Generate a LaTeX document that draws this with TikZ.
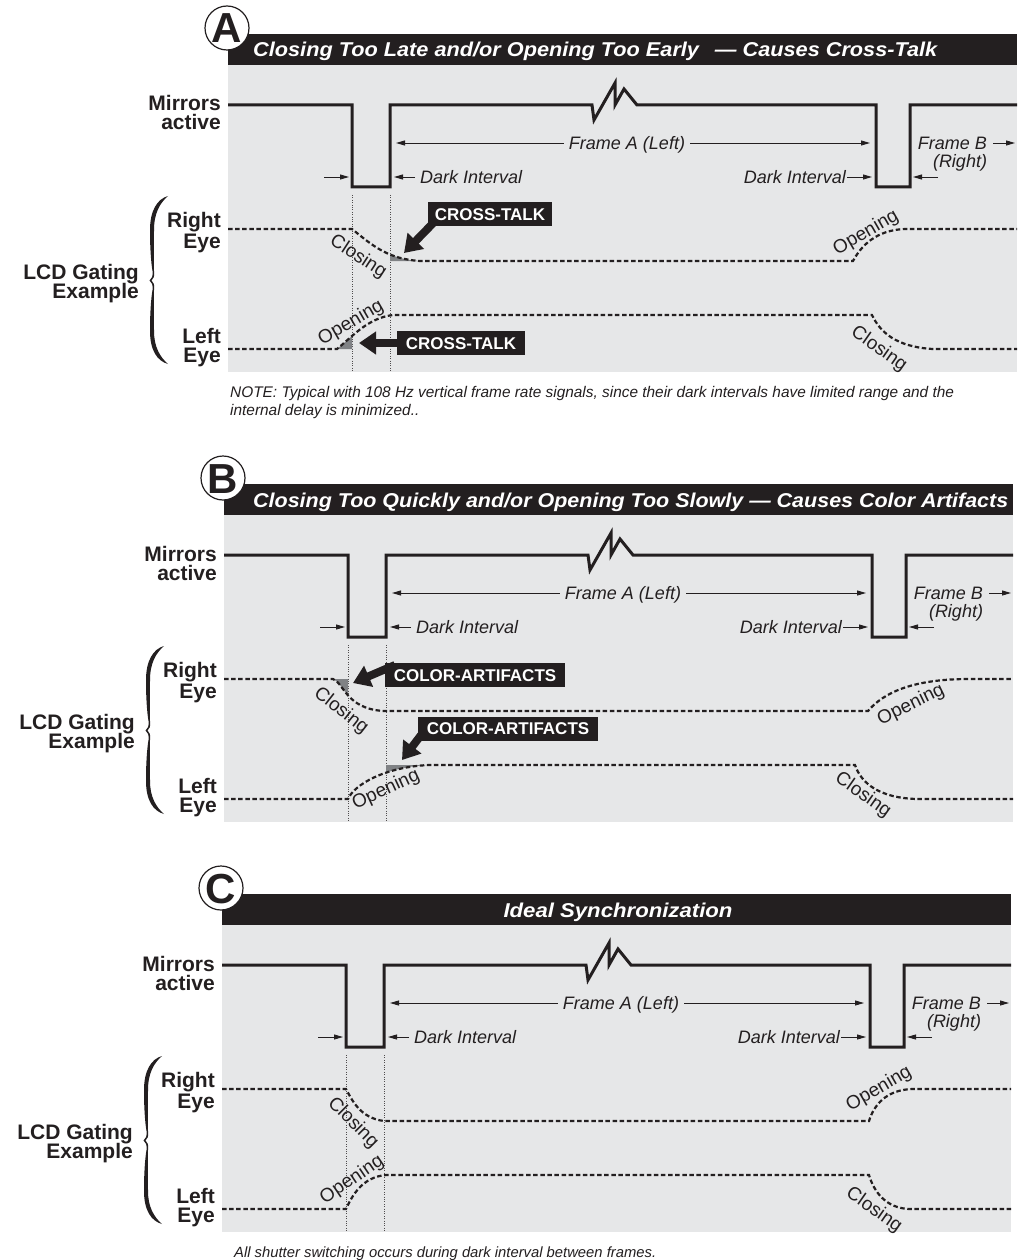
\documentclass[tikz,border=0pt]{standalone}
\usepackage{fontspec}
\setmainfont{Liberation Sans}
\usetikzlibrary{arrows.meta}
\definecolor{ink}{HTML}{231F20}
\definecolor{panelgray}{HTML}{E6E7E8}
\definecolor{xtalk}{HTML}{808285}

\tikzset{
  mirrorline/.style={line width=3pt, draw=ink, line join=miter},
  eyetrace/.style={line width=2.2pt, draw=ink, dash pattern=on 4.5pt off 2.6pt},
  guide/.style={line width=0.8pt, draw=ink!80, dash pattern=on 0.8pt off 1.6pt},
  dimarrow/.style={line width=0.9pt, draw=ink, -{Triangle[length=9pt,width=5pt]}},
  lab/.style={font=\fontsize{18}{20}\selectfont\itshape, text=ink, inner sep=0pt, text height=12.9pt, text depth=0pt},
  sidelab/.style={font=\fontsize{21}{20}\selectfont\bfseries, text=ink, inner sep=0pt, anchor=base east},
  curvelab/.style={font=\fontsize{19}{20}\selectfont, text=ink, inner sep=0pt},
  badge/.style={circle, draw=ink, fill=white, line width=1.2pt, minimum size=44pt, inner sep=0pt,
    text height=30pt, text depth=0pt, font=\fontsize{42}{42}\selectfont\bfseries, text=ink},
  ttl/.style={text=white, font=\fontsize{20}{20}\selectfont\bfseries\itshape, inner sep=0pt},
  notetext/.style={font=\fontsize{15.4}{18}\selectfont\itshape, text=ink, inner sep=0pt, anchor=base west},
  calloutbox/.style={fill=ink, text=white, font=\fontsize{17}{17}\selectfont\bfseries, inner sep=0pt,
    minimum height=24pt, text height=12.2pt, text depth=0pt},
  blockarrow/.style={draw=ink, line width=8pt, -{Triangle[length=17pt,width=22pt]}},
}

\newcommand\lcdcommon[1]{%
  \fill[ink] (228,34) rectangle (1017,65);
  \fill[panelgray] (228,65) rectangle (1017,372);
  \node[badge] (badge) at (227,28) {#1};
  \draw[mirrorline] (228,105) -- (352,105) -- (352,187) -- (390,187) -- (390,105) -- (592,105)
     -- (594,120) -- (615,83) -- (615,105) -- (624,89) -- (637,105) -- (876,105) -- (876,187)
     -- (910,187) -- (910,105) -- (1017,105);
  % frame arrows
  \node[lab] (fa) at (627,143) {Frame A (Left)};
  \coordinate (faL) at (396,143);
  \coordinate (faR) at (870,143);
  \draw[dimarrow] ([xshift=-5pt]fa.west) -- (faL);
  \draw[dimarrow] ([xshift=5pt]fa.east) -- (faR);
  \node[lab, anchor=east] (fb) at (987,143) {Frame B};
  \coordinate (fbR) at (1015,143);
  \draw[dimarrow] ([xshift=6pt]fb.east) -- (fbR);
  \node[lab] (fbr) at (960,161) {(Right)};
  % dark interval arrows
  \coordinate (d1a) at (324,177);
  \coordinate (d1b) at (349,177);
  \draw[dimarrow] (d1a) -- (d1b);
  \node[lab, anchor=west] (dl) at (420,177) {Dark Interval};
  \coordinate (d2b) at (394,177);
  \draw[dimarrow] ([xshift=-5pt]dl.west) -- (d2b);
  \node[lab, anchor=east] (dr) at (846,177) {Dark Interval};
  \coordinate (d3b) at (872,177);
  \draw[dimarrow] ([xshift=1pt]dr.east) -- (d3b);
  \coordinate (d4a) at (938,177);
  \coordinate (d4b) at (913,177);
  \draw[dimarrow] (d4a) -- (d4b);
  % guides
  \draw[guide] (352,195) -- (352,372);
  \draw[guide] (390,195) -- (390,372);
  % side labels
  \node[sidelab] (s1) at (221,111) {Mirrors};
  \node[sidelab] (s2) at (221,130) {active};
  \node[sidelab] (s3) at (221,227) {Right};
  \node[sidelab] (s4) at (221,248) {Eye};
  \node[sidelab] (s5) at (221,343) {Left};
  \node[sidelab] (s6) at (221,362) {Eye};
  \node[sidelab] (s7) at (139,279) {LCD Gating};
  \node[sidelab] (s8) at (139,298) {Example};
  % brace (thick hooked ends, thin waist, pointed middle)
  \fill[ink] (168,196)
     .. controls (157,199) and (150,211) .. (150,230)
     .. controls (150,248) and (151,262) .. (152.5,271)
     .. controls (153,276) and (152,279) .. (149.5,280.5)
     .. controls (152,282) and (153,285) .. (152.5,290)
     .. controls (151,299) and (150,313) .. (150,331)
     .. controls (150,350) and (157,361) .. (168,364)
     .. controls (160,357) and (154,347) .. (154,331)
     .. controls (154,313) and (153.5,299) .. (154,290)
     .. controls (154.5,285) and (154,282) .. (151.5,280.5)
     .. controls (154,279) and (154.5,276) .. (154,271)
     .. controls (153.5,262) and (154,248) .. (154,230)
     .. controls (154,213) and (160,203) .. (168,196) -- cycle;
}

\begin{document}
\begin{tikzpicture}[x=1pt, y=-1pt]
\useasboundingbox (0,0) rectangle (1021,1260);
\fill[white] (0,0) rectangle (1021,1260);

% ================= Panel A =================
\begin{scope}[name prefix=A-]
  \lcdcommon{A}
  \node[ttl, anchor=base west] (title) at (253,57)
    {\resizebox{684pt}{\height}{Closing Too Late and/or Opening Too Early\hspace{0.45em} — Causes Cross-Talk}};
  \begin{scope}
    \clip (390,200) rectangle (440,265);
    \fill[xtalk] (352,229) .. controls (373,246) and (388,259) .. (420,261) -- (352,261) -- cycle;
  \end{scope}
  \begin{scope}
    \clip (330,320) rectangle (352,352);
    \fill[xtalk] (337,349) .. controls (353,336) and (368,318) .. (393,315) -- (393,349) -- cycle;
  \end{scope}
  \draw[eyetrace] (228,229) -- (352,229) .. controls (373,246) and (388,259) .. (420,261) -- (853,261)
     .. controls (861,246) and (876,230) .. (905,229) -- (1017,229);
  \draw[eyetrace] (228,349) -- (337,349) .. controls (353,336) and (368,318) .. (393,315) -- (872,315)
     .. controls (880,332) and (896,347) .. (933,349) -- (1017,349);
  \node[curvelab, rotate=-33] (cl1) at (358,257) {Closing};
  \node[curvelab, rotate=30] (op1) at (351,323) {Opening};
  \node[curvelab, rotate=30] (op2) at (866,233) {Opening};
  \node[curvelab, rotate=-35] (cl2) at (879,349) {Closing};
  % callouts
  \coordinate (t1) at (404,253);
  \coordinate (s1t) at (442,214);
  \draw[blockarrow] (s1t) -- (t1);
  \node[calloutbox, minimum width=124pt] (ct1) at (490,214) {CROSS-TALK};
  \coordinate (t2) at (359,343);
  \coordinate (s2t) at (410,343);
  \draw[blockarrow] (s2t) -- (t2);
  \node[calloutbox, minimum width=128pt] (ct2) at (461,343) {CROSS-TALK};
  \node[notetext] (n1) at (230,397) {NOTE: Typical with 108 Hz vertical frame rate signals, since their dark intervals have limited range and the};
  \node[notetext] (n2) at (230,415) {internal delay is minimized..};
\end{scope}

% ================= Panel B =================
\begin{scope}[shift={(-4,450)}, name prefix=B-]
  \lcdcommon{B}
  \node[ttl, anchor=base west] (title) at (257,57)
    {\resizebox{755pt}{\height}{Closing Too Quickly and/or Opening Too Slowly — Causes Color Artifacts}};
  \begin{scope}
    \clip (330,225) rectangle (352,265);
    \fill[xtalk] (337,229) .. controls (348,233) and (350,259) .. (388,261) -- (388,229) -- cycle;
  \end{scope}
  \begin{scope}
    \clip (390,300) rectangle (440,352);
    \fill[xtalk] (352,349) .. controls (358,335) and (388,317) .. (433,315) -- (352,315) -- cycle;
  \end{scope}
  \draw[eyetrace] (228,229) -- (337,229) .. controls (348,233) and (350,259) .. (388,261) -- (872,261)
     .. controls (888,242) and (918,229) .. (973,229) -- (1017,229);
  \draw[eyetrace] (228,349) -- (352,349) .. controls (358,335) and (388,317) .. (433,315) -- (859,315)
     .. controls (865,333) and (883,348) .. (921,349) -- (1017,349);
  \node[curvelab, rotate=-38] (cl1) at (345,261) {Closing};
  \node[curvelab, rotate=25] (op1) at (390,340) {Opening};
  \node[curvelab, rotate=26] (op2) at (915,255) {Opening};
  \node[curvelab, rotate=-35] (cl2) at (867,345) {Closing};
  \coordinate (t1) at (357,233);
  \coordinate (s1t) at (399,215);
  \draw[blockarrow] (s1t) -- (t1);
  \node[calloutbox, minimum width=180pt] (ca1) at (479,225) {COLOR-ARTIFACTS};
  \coordinate (t2) at (406,310);
  \coordinate (s2t) at (432,276);
  \draw[blockarrow] (s2t) -- (t2);
  \node[calloutbox, minimum width=180pt] (ca2) at (512,278.5) {COLOR-ARTIFACTS};
\end{scope}

% ================= Panel C =================
\begin{scope}[shift={(-6,860)}, name prefix=C-]
  \lcdcommon{C}
  \node[ttl, anchor=base] (title) at (624,57)
    {\resizebox{229pt}{\height}{Ideal Synchronization}};
  \draw[eyetrace] (228,229) -- (352,229) .. controls (358,240) and (366,258) .. (390,261) -- (875,261)
     .. controls (880,245) and (892,230) .. (918,229) -- (1017,229);
  \draw[eyetrace] (228,349) -- (352,349) .. controls (358,336) and (368,317) .. (392,315) -- (875,315)
     .. controls (880,332) and (892,348) .. (915,349) -- (1017,349);
  \node[curvelab, rotate=-45] (cl1) at (359,263) {Closing};
  \node[curvelab, rotate=34] (op1) at (358,320) {Opening};
  \node[curvelab, rotate=30] (op2) at (885,229) {Opening};
  \node[curvelab, rotate=-35] (cl2) at (880,350) {Closing};
  \node[notetext, font=\fontsize{14.8}{18}\selectfont\itshape] (n1) at (240,397) {All shutter switching occurs during dark interval between frames.};
\end{scope}
\end{tikzpicture}
\end{document}
